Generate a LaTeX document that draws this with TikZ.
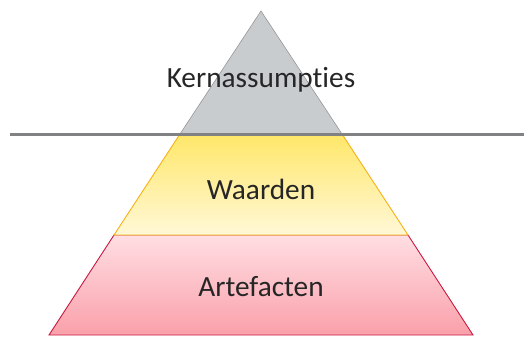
\documentclass[tikz,border=0pt]{standalone}
\usepackage{fontspec}
\setmainfont[Ligatures=NoCommon]{Carlito}
\definecolor{kerngrijs}{RGB}{201,204,207}
\definecolor{kernrand}{RGB}{150,150,150}
\definecolor{lijngrijs}{RGB}{128,130,132}
\definecolor{waardtop}{RGB}{255,231,105}
\definecolor{waardbodem}{RGB}{255,248,215}
\definecolor{waardrand}{RGB}{244,178,20}
\definecolor{artetop}{RGB}{255,222,227}
\definecolor{artebodem}{RGB}{250,160,170}
\definecolor{arterand}{RGB}{200,25,65}
\definecolor{tekst}{RGB}{38,38,38}
\tikzset{laag/.style={font=\fontsize{29.3}{34}\selectfont, text=tekst}}

\begin{document}
\begin{tikzpicture}[x=1pt, y=-1pt]
		\useasboundingbox (0,0) rectangle (524,338);
		% lagen van de piramide
		\draw [arterand, line width=0.9pt, top color=artetop, bottom color=artebodem] (114,235) -- (408,235) -- (473,335) -- (49,335) -- cycle;
		\draw [waardrand, line width=0.9pt, top color=waardtop, bottom color=waardbodem] (180,134) -- (342,134) -- (408,235) -- (114,235) -- cycle;
		\draw [kernrand, line width=0.6pt, fill=kerngrijs] (261,11) -- (342,134) -- (180,134) -- cycle;
		\draw [lijngrijs, line width=3pt] (10,134) -- (524,134);
		% teksten
		\node [laag] (kern) at (261,80) {Kernassumpties};
		\node [laag] (waarden) at (261,189) {Waarden};
		\node [laag] (artefacten) at (261,287) {Artefacten};
	\end{tikzpicture}
\end{document}
